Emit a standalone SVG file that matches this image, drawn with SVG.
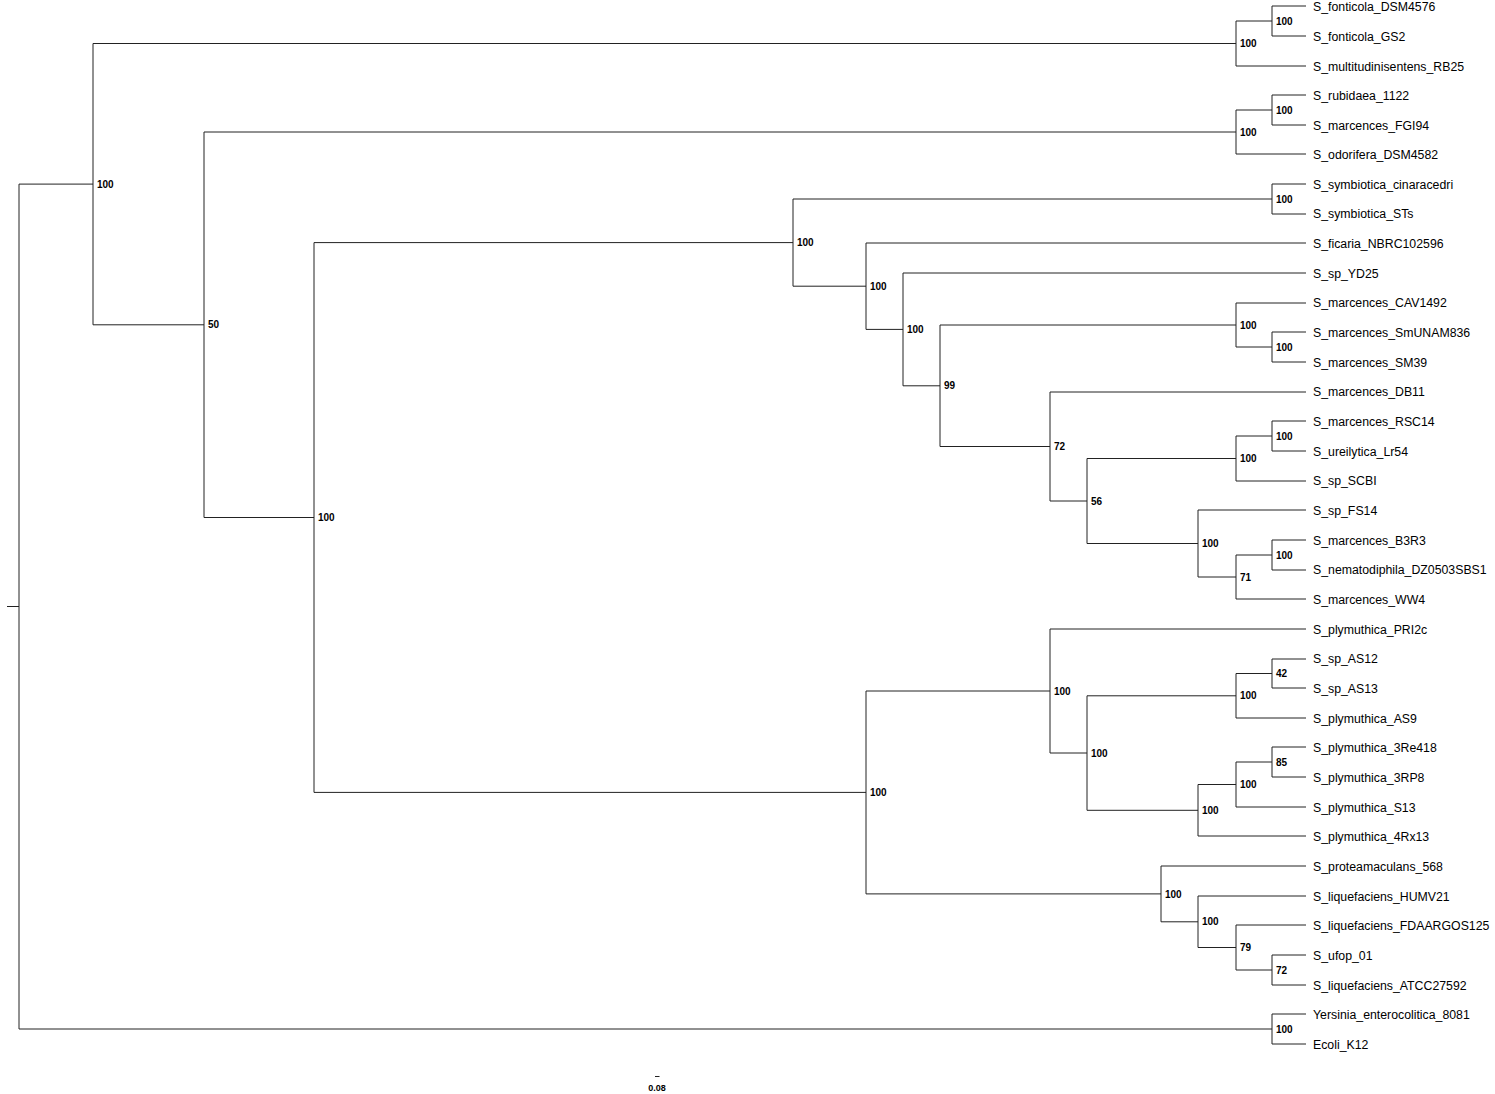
<svg xmlns="http://www.w3.org/2000/svg" width="1495" height="1094" viewBox="0 0 1495 1094">
<style>
.ln{stroke:#222;stroke-width:1;fill:none}
.lf{font-family:"Liberation Sans",Arial,sans-serif;font-size:12.3px;fill:#000}
.bs{font-family:"Liberation Sans",Arial,sans-serif;font-size:10px;font-weight:bold;fill:#000}
</style>
<rect width="1495" height="1094" fill="#fff"/>
<g id="connectors" class="ln">
<path d="M1272 6H1306M1272 36H1306M1236 66H1306M1272 95H1306M1272 125H1306M1236 154H1306M1272 184H1306M1272 214H1306M866 243H1306M903 273H1306M1236 303H1306M1272 332H1306M1272 362H1306M1050 392H1306M1272 421H1306M1272 451H1306M1236 481H1306M1198 510H1306M1272 540H1306M1272 570H1306M1236 599H1306M1050 629H1306M1272 659H1306M1272 688H1306M1236 718H1306M1272 747H1306M1272 777H1306M1236 807H1306M1198 836H1306M1161 866H1306M1198 896H1306M1236 925H1306M1272 955H1306M1272 985H1306M1272 1014H1306M1272 1044H1306"/>
<path d="M1236 21H1272M93 43.5H1236M1236 110H1272M204 132H1236M793 199H1272M1236 347H1272M940 325H1236M1236 436H1272M1087 458.5H1236M1236 555H1272M1198 577H1236M1087 543.5H1198M1050 501H1087M940 446.5H1050M903 385.8H940M866 329.4H903M793 286.2H866M314 242.6H793M1236 673.5H1272M1087 695.8H1236M1236 762H1272M1198 784.5H1236M1087 810.3H1198M1050 753H1087M866 691H1050M1236 970H1272M1198 947.5H1236M1161 921.8H1198M866 893.9H1161M314 792.4H866M204 517.5H314M93 324.8H204M19 184.1H93M19 1029H1272M7 606.5H19"/>
</g>
<g id="nA"><path class="ln" d="M1272 6V36"/><text class="bs" x="1276" y="24.6">100</text></g>
<g id="nB"><path class="ln" d="M1236 21V66"/><text class="bs" x="1240" y="47.1">100</text></g>
<g id="nC"><path class="ln" d="M1272 95V125"/><text class="bs" x="1276" y="113.6">100</text></g>
<g id="nD"><path class="ln" d="M1236 110V154"/><text class="bs" x="1240" y="135.6">100</text></g>
<g id="nE"><path class="ln" d="M1272 184V214"/><text class="bs" x="1276" y="202.6">100</text></g>
<g id="nF"><path class="ln" d="M1272 332V362"/><text class="bs" x="1276" y="350.6">100</text></g>
<g id="nG"><path class="ln" d="M1236 303V347"/><text class="bs" x="1240" y="328.6">100</text></g>
<g id="nH"><path class="ln" d="M1272 421V451"/><text class="bs" x="1276" y="439.6">100</text></g>
<g id="nI"><path class="ln" d="M1236 436V481"/><text class="bs" x="1240" y="462.1">100</text></g>
<g id="nJ"><path class="ln" d="M1272 540V570"/><text class="bs" x="1276" y="558.6">100</text></g>
<g id="nK"><path class="ln" d="M1236 555V599"/><text class="bs" x="1240" y="580.6">71</text></g>
<g id="nL"><path class="ln" d="M1198 510V577"/><text class="bs" x="1202" y="547.1">100</text></g>
<g id="nM"><path class="ln" d="M1087 458.5V543.5"/><text class="bs" x="1091" y="504.6">56</text></g>
<g id="nN"><path class="ln" d="M1050 392V501"/><text class="bs" x="1054" y="450.1">72</text></g>
<g id="nO"><path class="ln" d="M940 325V446.5"/><text class="bs" x="944" y="389.4">99</text></g>
<g id="nP"><path class="ln" d="M903 273V385.8"/><text class="bs" x="907" y="333">100</text></g>
<g id="nQ"><path class="ln" d="M866 243V329.4"/><text class="bs" x="870" y="289.8">100</text></g>
<g id="nR"><path class="ln" d="M793 199V286.2"/><text class="bs" x="797" y="246.2">100</text></g>
<g id="nS"><path class="ln" d="M1272 659V688"/><text class="bs" x="1276" y="677.1">42</text></g>
<g id="nT"><path class="ln" d="M1236 673.5V718"/><text class="bs" x="1240" y="699.4">100</text></g>
<g id="nU"><path class="ln" d="M1272 747V777"/><text class="bs" x="1276" y="765.6">85</text></g>
<g id="nV"><path class="ln" d="M1236 762V807"/><text class="bs" x="1240" y="788.1">100</text></g>
<g id="nW"><path class="ln" d="M1198 784.5V836"/><text class="bs" x="1202" y="813.9">100</text></g>
<g id="nX"><path class="ln" d="M1087 695.8V810.3"/><text class="bs" x="1091" y="756.6">100</text></g>
<g id="nY"><path class="ln" d="M1050 629V753"/><text class="bs" x="1054" y="694.6">100</text></g>
<g id="nZ1"><path class="ln" d="M1272 955V985"/><text class="bs" x="1276" y="973.6">72</text></g>
<g id="nZ2"><path class="ln" d="M1236 925V970"/><text class="bs" x="1240" y="951.1">79</text></g>
<g id="nZ3"><path class="ln" d="M1198 896V947.5"/><text class="bs" x="1202" y="925.4">100</text></g>
<g id="nZ4"><path class="ln" d="M1161 866V921.8"/><text class="bs" x="1165" y="897.5">100</text></g>
<g id="nZ5"><path class="ln" d="M866 691V893.9"/><text class="bs" x="870" y="796">100</text></g>
<g id="nZ6"><path class="ln" d="M314 242.6V792.4"/><text class="bs" x="318" y="521.1">100</text></g>
<g id="nZ7"><path class="ln" d="M204 132V517.5"/><text class="bs" x="208" y="328.4">50</text></g>
<g id="nZ8"><path class="ln" d="M93 43.5V324.8"/><text class="bs" x="97" y="187.7">100</text></g>
<g id="nZ9"><path class="ln" d="M1272 1014V1044"/><text class="bs" x="1276" y="1032.6">100</text></g>
<g id="nRoot"><path class="ln" d="M19 184.1V1029"/></g>
<g id="leaves" class="lf">
<text x="1313" y="10.5">S_fonticola_DSM4576</text>
<text x="1313" y="40.5">S_fonticola_GS2</text>
<text x="1313" y="70.5">S_multitudinisentens_RB25</text>
<text x="1313" y="99.8">S_rubidaea_1122</text>
<text x="1313" y="129.5">S_marcences_FGI94</text>
<text x="1313" y="159">S_odorifera_DSM4582</text>
<text x="1313" y="188.6">S_symbiotica_cinaracedri</text>
<text x="1313" y="218.3">S_symbiotica_STs</text>
<text x="1313" y="248">S_ficaria_NBRC102596</text>
<text x="1313" y="277.6">S_sp_YD25</text>
<text x="1313" y="307.3">S_marcences_CAV1492</text>
<text x="1313" y="337">S_marcences_SmUNAM836</text>
<text x="1313" y="366.6">S_marcences_SM39</text>
<text x="1313" y="396.3">S_marcences_DB11</text>
<text x="1313" y="426">S_marcences_RSC14</text>
<text x="1313" y="455.6">S_ureilytica_Lr54</text>
<text x="1313" y="485.3">S_sp_SCBI</text>
<text x="1313" y="515">S_sp_FS14</text>
<text x="1313" y="544.6">S_marcences_B3R3</text>
<text x="1313" y="574.3">S_nematodiphila_DZ0503SBS1</text>
<text x="1313" y="604">S_marcences_WW4</text>
<text x="1313" y="633.6">S_plymuthica_PRI2c</text>
<text x="1313" y="663.3">S_sp_AS12</text>
<text x="1313" y="693">S_sp_AS13</text>
<text x="1313" y="722.6">S_plymuthica_AS9</text>
<text x="1313" y="752.3">S_plymuthica_3Re418</text>
<text x="1313" y="782">S_plymuthica_3RP8</text>
<text x="1313" y="811.6">S_plymuthica_S13</text>
<text x="1313" y="841.3">S_plymuthica_4Rx13</text>
<text x="1313" y="871">S_proteamaculans_568</text>
<text x="1313" y="900.6">S_liquefaciens_HUMV21</text>
<text x="1313" y="930.3">S_liquefaciens_FDAARGOS125</text>
<text x="1313" y="960">S_ufop_01</text>
<text x="1313" y="989.6">S_liquefaciens_ATCC27592</text>
<text x="1313" y="1019.3">Yersinia_enterocolitica_8081</text>
<text x="1313" y="1049">Ecoli_K12</text>
</g>
<g id="scale">
<path class="ln" d="M655 1076.5H659.5"/>
<text class="bs" x="657" y="1090.5" text-anchor="middle" style="font-size:9px">0.08</text>
</g>
</svg>
